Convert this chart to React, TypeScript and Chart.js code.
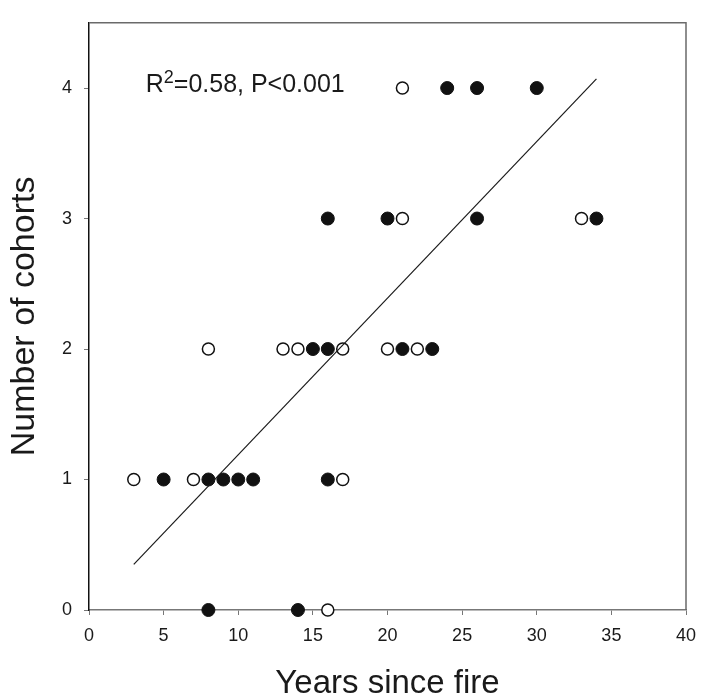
import React, { useEffect, useRef } from 'react';
import { Chart, registerables } from 'chart.js';

Chart.register(...registerables);

// Filled circles
const filledX = [24, 26, 30, 16, 20, 26, 34, 15, 16, 21, 23, 5, 8, 9, 10, 11, 16, 8, 14];
const filledY = [4, 4, 4, 3, 3, 3, 3, 2, 2, 2, 2, 1, 1, 1, 1, 1, 1, 0, 0];
// Open circles
const openX = [21, 21, 33, 8, 13, 14, 17, 20, 22, 3, 7, 17, 16];
const openY = [4, 3, 3, 2, 2, 2, 2, 2, 2, 1, 1, 1, 0];
// Regression line end points
const fitX = [3, 34];
const fitY = [0.35, 4.07];

const xTicks = [0, 5, 10, 15, 20, 25, 30, 35, 40];
const yTicks = [0, 1, 2, 3, 4];
const xTitle = 'Years since fire';
const yTitle = 'Number of cohorts';
const statMain = 'R';
const statSup = '2';
const statRest = '=0.58, P<0.001';

const FONT = '"Liberation Sans", Arial, Helvetica, sans-serif';

const toPts = (xs: number[], ys: number[]) => xs.map((x, i) => ({ x, y: ys[i] }));

const framePlugin = {
  id: 'frameAndText',
  afterDraw(chart: any) {
    const { ctx, chartArea, scales } = chart;
    const { left, right, top, bottom } = chartArea;
    ctx.save();
    ctx.strokeStyle = '#6a6a6a';
    ctx.lineWidth = 1.5;
    ctx.beginPath();
    ctx.moveTo(left, top);
    ctx.lineTo(right, top);
    ctx.lineTo(right, bottom);
    ctx.stroke();

    const x = scales.x.getPixelForValue(3.8);
    const y = scales.y.getPixelForValue(3.97);
    ctx.fillStyle = '#1a1a1a';
    ctx.textAlign = 'left';
    ctx.textBaseline = 'alphabetic';
    ctx.font = `25px ${FONT}`;
    ctx.fillText(statMain, x, y);
    let w = ctx.measureText(statMain).width;
    ctx.font = `18px ${FONT}`;
    ctx.fillText(statSup, x + w, y - 9);
    w += ctx.measureText(statSup).width;
    ctx.font = `25px ${FONT}`;
    ctx.fillText(statRest, x + w, y);
    ctx.restore();
  },
};

export default function App() {
  const ref = useRef<HTMLCanvasElement | null>(null);

  useEffect(() => {
    if (!ref.current) return;
    Chart.defaults.font.family = FONT;
    Chart.defaults.color = '#1a1a1a';
    const chart = new Chart(ref.current, {
      type: 'scatter',
      data: {
        datasets: [
          {
            type: 'line',
            label: 'fit',
            data: toPts(fitX, fitY),
            borderColor: '#1a1a1a',
            borderWidth: 1.2,
            pointRadius: 0,
            fill: false,
            clip: false,
          } as any,
          {
            label: 'filled',
            data: toPts(filledX, filledY),
            backgroundColor: '#111',
            borderColor: '#111',
            borderWidth: 1,
            pointRadius: 6.5,
            clip: false,
          } as any,
          {
            label: 'open',
            data: toPts(openX, openY),
            backgroundColor: '#fff',
            borderColor: '#111',
            borderWidth: 1.5,
            pointRadius: 6,
            clip: false,
          } as any,
        ],
      },
      options: {
        responsive: false,
        animation: false,
        events: [],
        layout: { padding: { top: 12, right: 25, left: 0, bottom: 0 } },
        plugins: {
          legend: { display: false },
          tooltip: { enabled: false },
        },
        scales: {
          x: {
            type: 'linear',
            min: 0,
            max: 40,
            afterFit: (s: any) => { s.height = 90; },
            afterBuildTicks: (s: any) => { s.ticks = xTicks.map((v) => ({ value: v })); },
            border: { display: true, color: '#777', width: 1.5 },
            grid: { display: true, drawOnChartArea: false, drawTicks: true, tickLength: 5, tickColor: '#777', tickWidth: 1 },
            ticks: { padding: 12, font: { size: 18, lineHeight: 1 }, color: '#1a1a1a', maxRotation: 0, autoSkip: false },
            title: { display: true, text: xTitle, font: { size: 33, lineHeight: 1 }, color: '#1a1a1a', padding: { top: 0, bottom: 0 } },
          },
          y: {
            type: 'linear',
            min: 0,
            max: 4.5,
            afterFit: (s: any) => { s.width = 89; },
            afterBuildTicks: (s: any) => { s.ticks = yTicks.map((v) => ({ value: v })); },
            border: { display: true, color: '#111', width: 1.5 },
            grid: { display: true, drawOnChartArea: false, drawTicks: true, tickLength: 5, tickColor: '#777', tickWidth: 1 },
            ticks: { padding: 12, font: { size: 18 }, color: '#1a1a1a', autoSkip: false },
            title: { display: true, text: yTitle, font: { size: 34, lineHeight: 1 }, color: '#1a1a1a', padding: { top: 8, bottom: 0 } },
          },
        },
      },
      plugins: [framePlugin],
    } as any);
    return () => chart.destroy();
  }, []);

  return (
    <div style={{ position: 'absolute', left: 0, top: 0, width: 711, height: 700, background: '#fff' }}>
      <canvas ref={ref} width={711} height={700} style={{ display: 'block' }} />
    </div>
  );
}
